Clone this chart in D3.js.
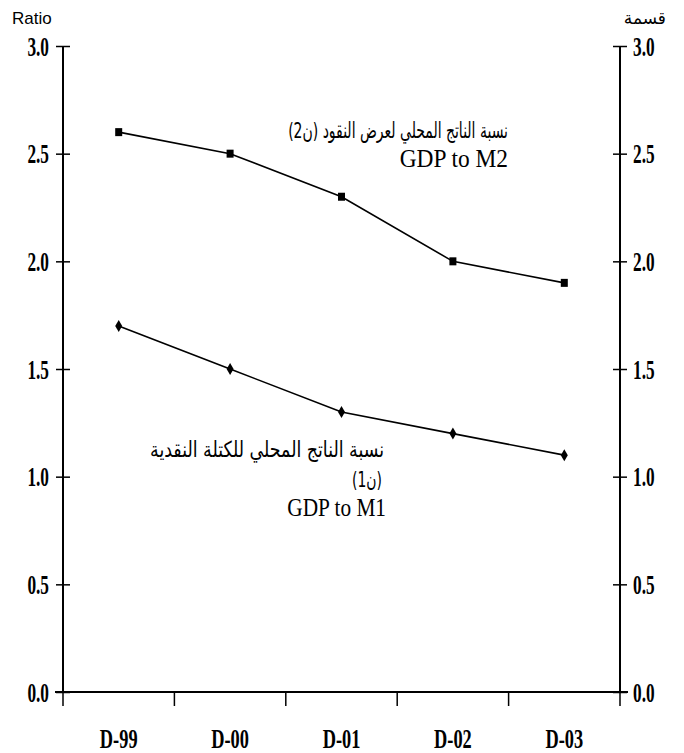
<!DOCTYPE html>
<html><head><meta charset="utf-8">
<script src="https://cdn.jsdelivr.net/npm/d3@7"></script>
<style>body{margin:0;background:#fff}</style>
</head><body>
<svg id="c" width="684" height="753"></svg>
<script>
const categories = ["D-99","D-00","D-01","D-02","D-03"];
const gdpToM2 = [2.6,2.5,2.3,2.0,1.9];
const gdpToM1 = [1.7,1.5,1.3,1.2,1.1];
const yTicks = [0,0.5,1.0,1.5,2.0,2.5,3.0];
const m2Arabic = "نسبة الناتج المحلي لعرض النقود (ن2)";
const m1Arabic = "نسبة الناتج المحلي للكتلة النقدية";
const m1Paren = "(ن1)";

const svg = d3.select("#c");
const L = 63, R = 620, T = 46, B = 692;
const x = d3.scaleBand().domain(categories).range([L, R]);
const y = d3.scaleLinear().domain([0, 3]).range([B, T]);

const tickFont = "'Liberation Serif','Times New Roman',serif";
const TS = 27, SX = 0.64;

function styleTicks(g, dx, anchor) {
  g.select(".domain").attr("stroke","#000").attr("stroke-width",2).attr("d",`M0,${T}V${B}`);
  g.selectAll(".tick line").attr("x1",-7).attr("x2",7).attr("stroke","#000").attr("stroke-width",1.5);
  g.selectAll(".tick text").attr("x",0).attr("y",0).attr("font-family",tickFont).attr("font-weight","bold")
    .attr("font-size",TS).attr("fill","#000").attr("text-anchor",anchor)
    .attr("transform",`translate(${dx},0) scale(${SX},1)`).attr("dy","0.34em");
}
const gl = svg.append("g").attr("transform", `translate(${L},0)`)
  .call(d3.axisLeft(y).tickValues(yTicks).tickFormat(d3.format(".1f")).tickSize(7).tickPadding(0));
styleTicks(gl, -14, "end");
const gr = svg.append("g").attr("transform", `translate(${R},0)`)
  .call(d3.axisRight(y).tickValues(yTicks).tickFormat(d3.format(".1f")).tickSize(7).tickPadding(0));
styleTicks(gr, 13, "start");

// bottom axis
const gb = svg.append("g");
gb.append("line").attr("x1",L-8).attr("x2",R+8).attr("y1",B).attr("y2",B).attr("stroke","#000").attr("stroke-width",2);
const bounds = categories.map(c => x(c)).concat([R]);
gb.selectAll("line.t").data(bounds).join("line").attr("class","t")
  .attr("x1",d=>d).attr("x2",d=>d).attr("y1",B).attr("y2",B+14).attr("stroke","#000").attr("stroke-width",1.5);
gb.selectAll("text").data(categories).join("text")
  .attr("transform",d=>`translate(${x(d)+x.bandwidth()/2},${B+56}) scale(0.68,1)`)
  .attr("text-anchor","middle").attr("font-family",tickFont).attr("font-weight","bold")
  .attr("font-size",TS).text(d=>d);

// axis titles
svg.append("text").attr("x",12).attr("y",24).attr("font-family","'Liberation Sans',Arial,sans-serif")
  .attr("font-size",17).text("Ratio");
svg.append("text").attr("x",666).attr("y",24).attr("text-anchor","end")
  .attr("font-family","'Liberation Sans','DejaVu Sans',Arial,sans-serif").attr("font-size",17).text("قسمة");

// lines
const cx = d => x(d) + x.bandwidth()/2;
const line = d3.line().x((d,i)=>cx(categories[i])).y(d=>y(d));
[gdpToM2, gdpToM1].forEach(s => {
  svg.append("path").datum(s).attr("d",line).attr("fill","none").attr("stroke","#000").attr("stroke-width",1.6);
});
svg.selectAll("rect.m2").data(gdpToM2).join("rect").attr("class","m2")
  .attr("x",(d,i)=>cx(categories[i])-3.5).attr("y",d=>y(d)-4).attr("width",7).attr("height",8).attr("fill","#000");
svg.selectAll("path.m1").data(gdpToM1).join("path").attr("class","m1")
  .attr("d",(d,i)=>{const px=cx(categories[i]),py=y(d);return `M${px},${py-6}L${px+3.5},${py}L${px},${py+6}L${px-3.5},${py}Z`;})
  .attr("fill","#000");

// annotations
const arFont = "'DejaVu Sans',sans-serif";
const serif = "'Liberation Serif','Times New Roman',serif";
function arabicLine(str, right, baseline, width, size) {
  const g = svg.append("g");
  const t = g.append("text").attr("x",0).attr("y",0).attr("direction","rtl").attr("unicode-bidi","embed")
    .attr("text-anchor","start").attr("font-family",arFont).attr("font-size",size).attr("fill","#000").text(str);
  const bb = t.node().getBBox();
  const s = width / bb.width;
  g.attr("transform",`translate(${right - width},${baseline}) scale(${s},1) translate(${-bb.x},0)`);
}
arabicLine(m2Arabic, 508, 138, 220, 22);
arabicLine(m1Arabic, 384, 457, 234, 22);
arabicLine(m1Paren, 382, 487, 30, 21);

svg.append("text").attr("transform","translate(508,167) scale(0.9,1)").attr("text-anchor","end")
  .attr("font-family",serif).attr("font-size",26).text("GDP to M2");
svg.append("text").attr("transform","translate(386,516) scale(0.82,1)").attr("text-anchor","end")
  .attr("font-family",serif).attr("font-size",26).text("GDP to M1");
</script>
</body></html>
